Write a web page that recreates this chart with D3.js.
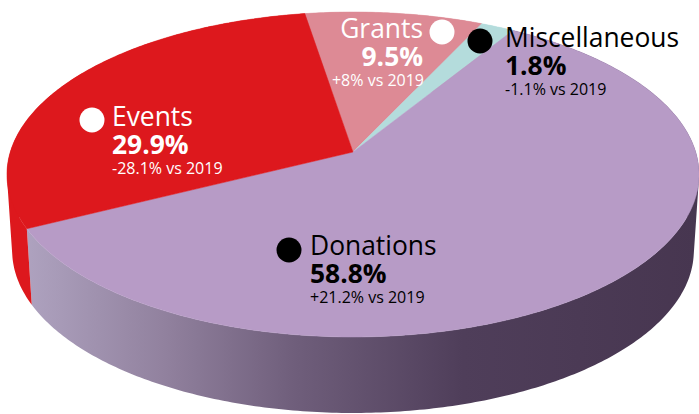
<!DOCTYPE html>
<html>
<head>
<meta charset="utf-8">
<title>Income 2020</title>
<script src="https://cdn.jsdelivr.net/npm/d3@7"></script>
<style>
	html, body { margin: 0; padding: 0; background: #fff; }
	svg { display: block; }
	text { font-family: "Open Sans", sans-serif; }
</style>
</head>
<body>
<svg id="chart" width="699" height="414"></svg>
<script>
// clockwise from the top of the pie, the way the slices are stacked in the picture
var categories = ["Grants", "Miscellaneous", "Donations", "Events"];
var shares = [9.5, 1.8, 58.8, 29.9];
var changes = ["+8% vs 2019", "-1.1% vs 2019", "+21.2% vs 2019", "-28.1% vs 2019"];

var topColors = ["#dd8a95", "#b4dcdc", "#b79bc6", "#dd181d"];
var inkColors = ["#fff", "#000", "#000", "#fff"];

var depth = 76;
var startAngle = -9.2 * Math.PI / 180;

// perspective of the tilted disc: unit circle -> screen
var centerX = 353;
var tilt = -0.1385;
var xScale = d3.scaleLinear().domain([0, 1]).range([0, 342.7]);
var yScale = d3.scaleLinear().domain([0, 1]).range([152, 152 + 138.3]);

function project(angle, radius) {
	var u = radius * Math.sin(angle), v = -radius * Math.cos(angle);
	var w = 1 + tilt * v;
	return [centerX + xScale(u) / w, yScale(v) / w];
}

var pie = d3.pie()
	.sort(null)
	.startAngle(startAngle)
	.endAngle(startAngle + 2 * Math.PI);

var slices = pie(shares);
var line = d3.line();

function rim(d) {
	var n = Math.max(4, Math.ceil((d.endAngle - d.startAngle) * 80));
	return d3.range(n + 1).map(function(i) {
		return project(d.startAngle + (d.endAngle - d.startAngle) * i / n, 1);
	});
}

function topPath(d) {
	return line([project(0, 0)].concat(rim(d))) + "Z";
}

// the lower rim is further from the eye, so a little narrower than the top one
function lowered(p) {
	return [centerX + (p[0] - centerX) * 0.985, p[1] + depth];
}

// one quad per rim step inside a single path: a plain outline would leave a notch
// at the widest point, and separate paths show seams in the gradient
function wallPath(d) {
	var upper = rim(d);
	return upper.slice(1).map(function(p, i) {
		var quad = [upper[i], p, lowered(p), lowered(upper[i])];
		if (d3.polygonArea(quad) < 0) {
			quad.reverse();
		}
		return line(quad) + "Z";
	}).join("");
}

var svg = d3.select("#chart");

var defs = svg.append("defs");
var wallGradient = defs.append("linearGradient")
	.attr("id", "wallShade")
	.attr("gradientUnits", "userSpaceOnUse")
	.attr("x1", 27).attr("x2", 697).attr("y1", 0).attr("y2", 0);
wallGradient.selectAll("stop")
	.data([
		{ o: 0, c: "#aea2bf" },
		{ o: 0.2, c: "#92829f" },
		{ o: 0.4, c: "#6f5e7b" },
		{ o: 0.65, c: "#4f3e5a" },
		{ o: 1, c: "#473650" }
	])
	.enter()
	.append("stop")
	.attr("offset", function(d) { return d.o; })
	.attr("stop-color", function(d) { return d.c; });

// walls first, the top face covers whatever sits behind it
svg.selectAll(".wall")
	.data(slices)
	.enter()
	.append("path")
	.attr("class", "wall")
	.attr("d", wallPath)
	.attr("fill", function(d, i) { return categories[i] === "Donations" ? "url(#wallShade)" : topColors[i]; });

svg.selectAll(".slice")
	.data(slices)
	.enter()
	.append("path")
	.attr("class", "slice")
	.attr("d", topPath)
	.attr("fill", function(d, i) { return topColors[i]; })
	.attr("stroke", function(d, i) { return topColors[i]; })
	.attr("stroke-width", 0.5);

// label blocks, same order as categories
var labelSpots = [
	{ x: 423, y: 38, anchor: "end", dotX: 442, dotY: 32, subX: 1 },
	{ x: 505, y: 47, anchor: "start", dotX: 480, dotY: 41, subX: 0 },
	{ x: 310, y: 255, anchor: "start", dotX: 289, dotY: 250, subX: 0 },
	{ x: 112, y: 126, anchor: "start", dotX: 92, dotY: 120, subX: 0 }
];

var labels = svg.selectAll(".label")
	.data(categories)
	.enter()
	.append("g")
	.attr("class", "label")
	.attr("fill", function(d, i) { return inkColors[i]; });

labels.append("circle")
	.attr("cx", function(d, i) { return labelSpots[i].dotX; })
	.attr("cy", function(d, i) { return labelSpots[i].dotY; })
	.attr("r", 12.5);

labels.append("text")
	.attr("x", function(d, i) { return labelSpots[i].x; })
	.attr("y", function(d, i) { return labelSpots[i].y; })
	.attr("text-anchor", function(d, i) { return labelSpots[i].anchor; })
	.style("font-size", "26.4px")
	.text(function(d) { return d; });

labels.append("text")
	.attr("x", function(d, i) { return labelSpots[i].x; })
	.attr("y", function(d, i) { return labelSpots[i].y + 28; })
	.attr("text-anchor", function(d, i) { return labelSpots[i].anchor; })
	.style("font-size", "26.4px")
	.style("font-weight", "700")
	.text(function(d, i) { return shares[i] + "%"; });

labels.append("text")
	.attr("x", function(d, i) { return labelSpots[i].x + labelSpots[i].subX; })
	.attr("y", function(d, i) { return labelSpots[i].y + 48; })
	.attr("text-anchor", function(d, i) { return labelSpots[i].anchor; })
	.style("font-size", "16px")
	.text(function(d, i) { return changes[i]; });
</script>
</body>
</html>
